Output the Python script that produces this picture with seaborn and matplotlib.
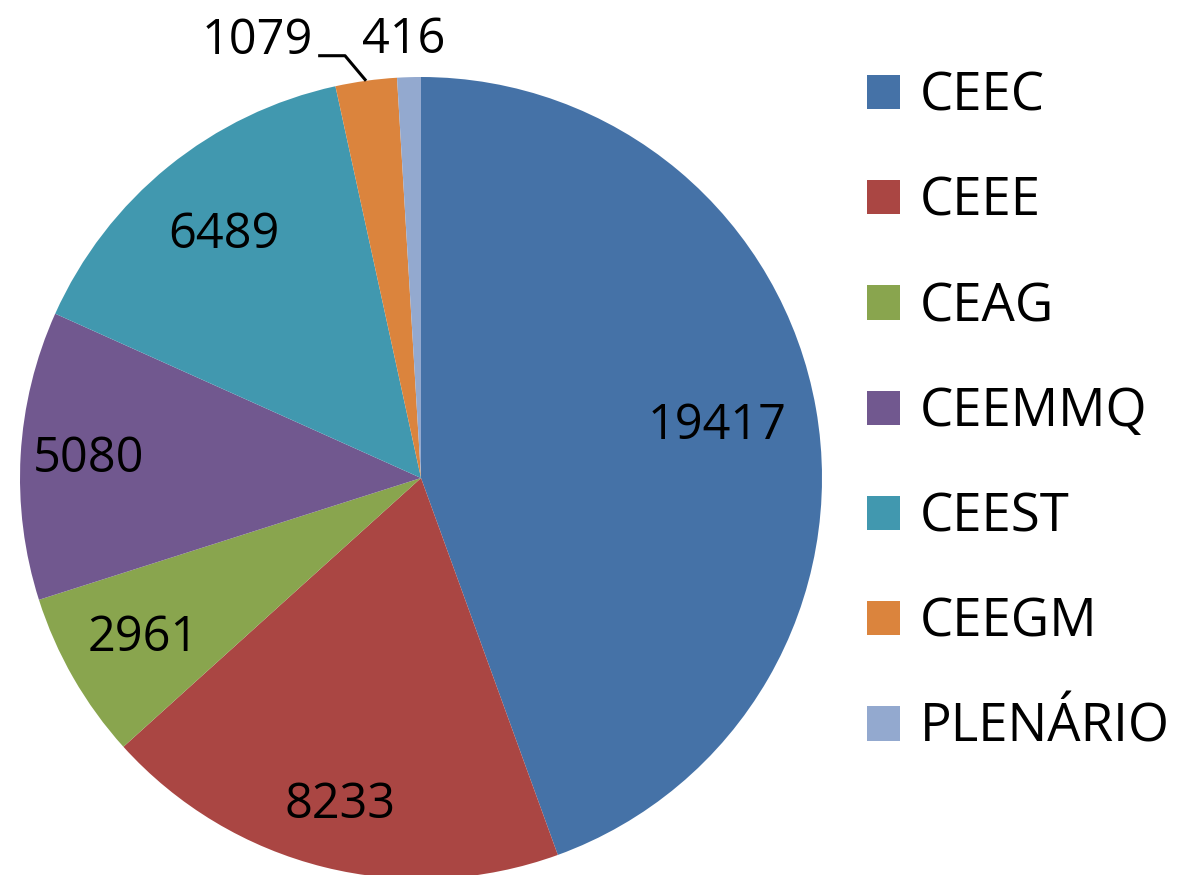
import numpy as np
import seaborn as sns
import matplotlib.pyplot as plt
from matplotlib.patches import Patch

# data
categories = ["CEEC", "CEEE", "CEAG", "CEEMMQ", "CEEST", "CEEGM", "PLENÁRIO"]
values = [19417, 8233, 2961, 5080, 6489, 1079, 416]
colors = ["#4572A7", "#AA4643", "#89A54E", "#71588F", "#4198AF", "#DB843D", "#93A9CF"]

sns.set_theme(style="white")
plt.rcParams['font.family'] = ['Open Sans', 'DejaVu Sans']
palette = sns.color_palette(colors)

W, H = 1189, 875
fig = plt.figure(figsize=(W / 100, H / 100), dpi=100)
# pie centre (421, 478) px, radius 401 px
cx, cy, r = 421, H - 478, 401
ax = fig.add_axes([(cx - r) / W, (cy - r) / H, 2 * r / W, 2 * r / H])
ax.axis('off')

wedges, _ = ax.pie(values, colors=palette, startangle=90, counterclock=False,
                   radius=1, wedgeprops={'linewidth': 0}, frame=False)
ax.set_xlim(-1, 1)
ax.set_ylim(-1, 1)

# inside labels at distances tuned per wedge
label_dist = [0.75, 0.84, 0.80, 0.83, 0.78]
fs = 35
for w, v, d in zip(wedges[:5], values[:5], label_dist):
    ang = np.deg2rad((w.theta1 + w.theta2) / 2)
    ax.text(d * np.cos(ang), d * np.sin(ang), str(v), ha='center', va='center',
            fontsize=fs, color='black')

# small slices: labels outside
w = wedges[5]
ang = np.deg2rad((w.theta1 + w.theta2) / 2)
p0 = (np.cos(ang), np.sin(ang))
p1 = (1.07 * np.cos(np.deg2rad(100.2)), 1.07 * np.sin(np.deg2rad(100.2)))
p2 = (p1[0] - 0.067, p1[1])
ax.plot([p0[0], p1[0], p2[0]], [p0[1], p1[1], p2[1]], color='black', lw=2.2,
        clip_on=False, solid_capstyle='butt')
ax.text(p2[0] - 0.012, p2[1] + 0.037, str(values[5]), ha='right', va='center',
        fontsize=fs, color='black', clip_on=False)

w = wedges[6]
ang = np.deg2rad((w.theta1 + w.theta2) / 2)
ax.text(1.09 * np.cos(ang) - 0.01, 1.092, str(values[6]), ha='center', va='center',
        fontsize=fs, color='black', clip_on=False)

handles = [Patch(facecolor=c, edgecolor='none') for c in palette]
fig.legend(handles, categories, loc='upper left',
           bbox_to_anchor=(846 / W, 1 - 49 / H), frameon=False,
           fontsize=38, labelcolor='black', handlelength=0.625, handleheight=0.625,
           handletextpad=0.38, labelspacing=0.98, borderaxespad=0)

fig.savefig('out.png', dpi=100)
